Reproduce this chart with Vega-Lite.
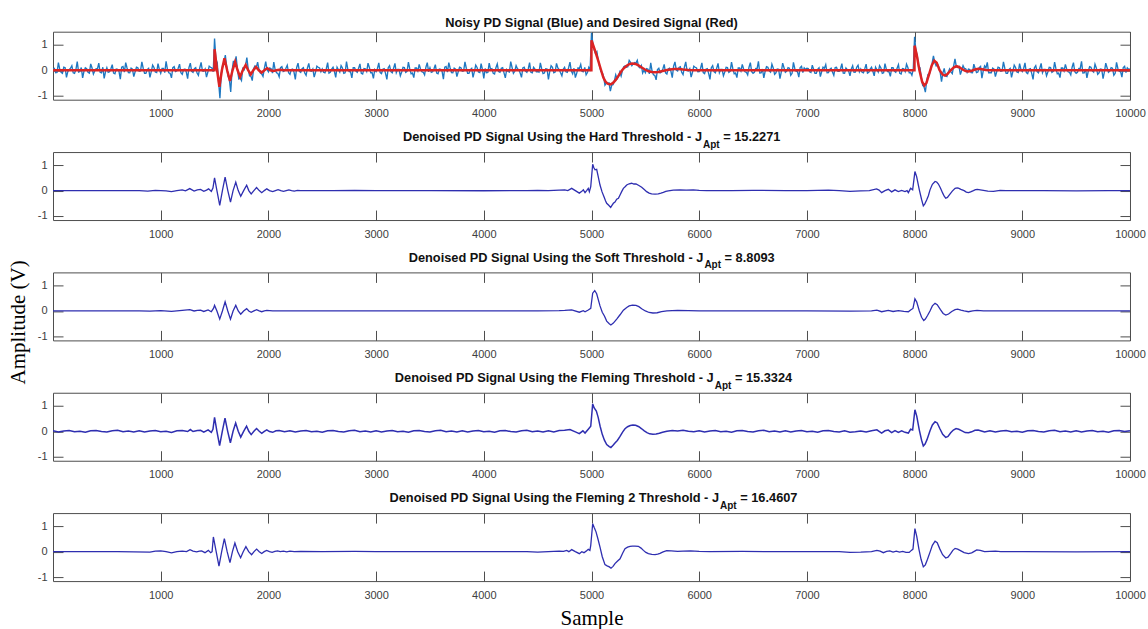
{
"$schema":"https://vega.github.io/schema/vega-lite/v6.json",
"background":"white",
"padding":{"top":15.7,"left":7,"right":4,"bottom":0},
"title":{"text":"Amplitude (V)","orient":"left","anchor":"middle","font":"Liberation Serif","fontSize":21,"fontWeight":"normal","color":"#000000","offset":8},
"config":{"view":{"stroke":"#4d4d4d","strokeWidth":1},"axis":{"grid":false,"domain":false,"labelFont":"Liberation Sans","labelFontSize":11,"labelColor":"#404040","tickColor":"#4d4d4d","labelFlush":false,"labelOverlap":false},"text":{"font":"Liberation Sans"}},
"spacing":10.35,
"datasets":{
"noisy":[{"x":0,"y":0.05},{"x":25,"y":-0.1},{"x":50,"y":0.3},{"x":75,"y":-0.08},{"x":100,"y":0.12},{"x":125,"y":-0.28},{"x":150,"y":0.02},{"x":175,"y":0.18},{"x":200,"y":-0.12},{"x":225,"y":0.34},{"x":250,"y":-0.05},{"x":275,"y":-0.3},{"x":300,"y":0.1},{"x":325,"y":-0.08},{"x":350,"y":0.25},{"x":375,"y":-0.15},{"x":400,"y":0.06},{"x":425,"y":0.28},{"x":450,"y":-0.1},{"x":475,"y":-0.32},
{"x":500,"y":0.1},{"x":525,"y":-0.06},{"x":550,"y":0.22},{"x":575,"y":-0.14},{"x":600,"y":0.04},{"x":625,"y":-0.35},{"x":650,"y":0.15},{"x":675,"y":0.3},{"x":700,"y":-0.09},{"x":725,"y":0.08},{"x":750,"y":-0.25},{"x":775,"y":0.12},{"x":800,"y":-0.04},{"x":825,"y":0.33},{"x":850,"y":-0.12},{"x":875,"y":0.02},{"x":900,"y":-0.28},{"x":925,"y":0.2},{"x":950,"y":-0.07},{"x":975,"y":0.26},
{"x":1000,"y":-0.12},{"x":1025,"y":0.07},{"x":1050,"y":0.35},{"x":1075,"y":-0.1},{"x":1100,"y":-0.3},{"x":1125,"y":0.14},{"x":1150,"y":-0.02},{"x":1175,"y":0.24},{"x":1200,"y":-0.16},{"x":1225,"y":0.05},{"x":1250,"y":-0.33},{"x":1275,"y":0.28},{"x":1300,"y":-0.08},{"x":1325,"y":0.1},{"x":1350,"y":-0.2},{"x":1375,"y":0.31},{"x":1400,"y":-0.04},{"x":1425,"y":-0.27},{"x":1450,"y":0.16},{"x":1475,"y":0.09},
{"x":1500,"y":1.25},{"x":1525,"y":0.3},{"x":1550,"y":-1.1},{"x":1575,"y":0.2},{"x":1600,"y":0.6},{"x":1625,"y":-0.23},{"x":1650,"y":-0.85},{"x":1675,"y":0.37},{"x":1700,"y":0.55},{"x":1725,"y":-0.34},{"x":1750,"y":-0.4},{"x":1775,"y":0.02},{"x":1800,"y":0.5},{"x":1825,"y":-0.22},{"x":1850,"y":-0.41},{"x":1875,"y":0.17},{"x":1900,"y":0.32},{"x":1925,"y":-0.11},{"x":1950,"y":-0.24},{"x":1975,"y":0.34},
{"x":2000,"y":-0.06},{"x":2025,"y":0.06},{"x":2050,"y":0.32},{"x":2075,"y":-0.1},{"x":2100,"y":-0.26},{"x":2125,"y":0.14},{"x":2150,"y":-0.02},{"x":2175,"y":0.2},{"x":2200,"y":-0.16},{"x":2225,"y":0.05},{"x":2250,"y":-0.36},{"x":2275,"y":0.28},{"x":2300,"y":-0.08},{"x":2325,"y":0.1},{"x":2350,"y":-0.2},{"x":2375,"y":0.27},{"x":2400,"y":-0.04},{"x":2425,"y":-0.27},{"x":2450,"y":0.16},{"x":2475,"y":0.09},
{"x":2500,"y":0.05},{"x":2525,"y":-0.1},{"x":2550,"y":0.3},{"x":2575,"y":-0.08},{"x":2600,"y":0.12},{"x":2625,"y":-0.28},{"x":2650,"y":0.02},{"x":2675,"y":0.18},{"x":2700,"y":-0.12},{"x":2725,"y":0.34},{"x":2750,"y":-0.05},{"x":2775,"y":-0.3},{"x":2800,"y":0.1},{"x":2825,"y":-0.08},{"x":2850,"y":0.25},{"x":2875,"y":-0.15},{"x":2900,"y":0.06},{"x":2925,"y":0.28},{"x":2950,"y":-0.1},{"x":2975,"y":-0.32},
{"x":3000,"y":-0.05},{"x":3025,"y":0.29},{"x":3050,"y":-0.13},{"x":3075,"y":0.06},{"x":3100,"y":-0.36},{"x":3125,"y":0.18},{"x":3150,"y":-0.1},{"x":3175,"y":0.27},{"x":3200,"y":0.03},{"x":3225,"y":-0.22},{"x":3250,"y":0.12},{"x":3275,"y":-0.08},{"x":3300,"y":0.32},{"x":3325,"y":-0.14},{"x":3350,"y":-0.29},{"x":3375,"y":0.09},{"x":3400,"y":0.23},{"x":3425,"y":-0.06},{"x":3450,"y":-0.18},{"x":3475,"y":0.3},
{"x":3500,"y":0.1},{"x":3525,"y":-0.06},{"x":3550,"y":0.22},{"x":3575,"y":-0.14},{"x":3600,"y":0.04},{"x":3625,"y":-0.35},{"x":3650,"y":0.15},{"x":3675,"y":0.3},{"x":3700,"y":-0.09},{"x":3725,"y":0.08},{"x":3750,"y":-0.25},{"x":3775,"y":0.12},{"x":3800,"y":-0.04},{"x":3825,"y":0.33},{"x":3850,"y":-0.12},{"x":3875,"y":0.02},{"x":3900,"y":-0.28},{"x":3925,"y":0.2},{"x":3950,"y":-0.07},{"x":3975,"y":0.26},
{"x":4000,"y":-0.32},{"x":4025,"y":-0.1},{"x":4050,"y":0.28},{"x":4075,"y":0.06},{"x":4100,"y":-0.15},{"x":4125,"y":0.25},{"x":4150,"y":-0.08},{"x":4175,"y":0.1},{"x":4200,"y":-0.3},{"x":4225,"y":-0.05},{"x":4250,"y":0.34},{"x":4275,"y":-0.12},{"x":4300,"y":0.18},{"x":4325,"y":0.02},{"x":4350,"y":-0.28},{"x":4375,"y":0.12},{"x":4400,"y":-0.08},{"x":4425,"y":0.3},{"x":4450,"y":-0.1},{"x":4475,"y":0.05},
{"x":4500,"y":-0.05},{"x":4525,"y":0.29},{"x":4550,"y":-0.13},{"x":4575,"y":0.06},{"x":4600,"y":-0.36},{"x":4625,"y":0.18},{"x":4650,"y":-0.1},{"x":4675,"y":0.27},{"x":4700,"y":0.03},{"x":4725,"y":-0.22},{"x":4750,"y":0.12},{"x":4775,"y":-0.08},{"x":4800,"y":0.32},{"x":4825,"y":-0.14},{"x":4850,"y":-0.29},{"x":4875,"y":0.09},{"x":4900,"y":0.23},{"x":4925,"y":-0.06},{"x":4950,"y":-0.18},{"x":4975,"y":0.12},
{"x":5000,"y":1.48},{"x":5025,"y":0.81},{"x":5050,"y":0.73},{"x":5075,"y":0.15},{"x":5100,"y":-0.09},{"x":5125,"y":-0.59},{"x":5150,"y":-0.52},{"x":5175,"y":-0.82},{"x":5200,"y":-0.57},{"x":5225,"y":-0.18},{"x":5250,"y":-0.25},{"x":5275,"y":-0.23},{"x":5300,"y":0.14},{"x":5325,"y":0.12},{"x":5350,"y":0.39},{"x":5375,"y":0.18},{"x":5400,"y":0.3},{"x":5425,"y":0.39},{"x":5450,"y":0.09},{"x":5475,"y":-0.11},
{"x":5500,"y":-0.1},{"x":5525,"y":0.04},{"x":5550,"y":0.29},{"x":5575,"y":-0.18},{"x":5600,"y":-0.38},{"x":5625,"y":0.08},{"x":5650,"y":-0.06},{"x":5675,"y":0.23},{"x":5700,"y":-0.15},{"x":5725,"y":0.08},{"x":5750,"y":-0.29},{"x":5775,"y":0.33},{"x":5800,"y":-0.03},{"x":5825,"y":0.14},{"x":5850,"y":-0.17},{"x":5875,"y":0.33},{"x":5900,"y":-0.03},{"x":5925,"y":-0.27},{"x":5950,"y":0.16},{"x":5975,"y":0.09},
{"x":6000,"y":-0.05},{"x":6025,"y":0.29},{"x":6050,"y":-0.13},{"x":6075,"y":0.06},{"x":6100,"y":-0.36},{"x":6125,"y":0.18},{"x":6150,"y":-0.1},{"x":6175,"y":0.27},{"x":6200,"y":0.03},{"x":6225,"y":-0.22},{"x":6250,"y":0.12},{"x":6275,"y":-0.08},{"x":6300,"y":0.32},{"x":6325,"y":-0.14},{"x":6350,"y":-0.29},{"x":6375,"y":0.09},{"x":6400,"y":0.23},{"x":6425,"y":-0.06},{"x":6450,"y":-0.18},{"x":6475,"y":0.3},
{"x":6500,"y":-0.12},{"x":6525,"y":0.07},{"x":6550,"y":0.35},{"x":6575,"y":-0.1},{"x":6600,"y":-0.3},{"x":6625,"y":0.14},{"x":6650,"y":-0.02},{"x":6675,"y":0.24},{"x":6700,"y":-0.16},{"x":6725,"y":0.05},{"x":6750,"y":-0.33},{"x":6775,"y":0.28},{"x":6800,"y":-0.08},{"x":6825,"y":0.1},{"x":6850,"y":-0.2},{"x":6875,"y":0.31},{"x":6900,"y":-0.04},{"x":6925,"y":-0.27},{"x":6950,"y":0.16},{"x":6975,"y":0.09},
{"x":7000,"y":0.08},{"x":7025,"y":-0.06},{"x":7050,"y":0.2},{"x":7075,"y":-0.12},{"x":7100,"y":0.04},{"x":7125,"y":-0.25},{"x":7150,"y":0.12},{"x":7175,"y":0.22},{"x":7200,"y":-0.09},{"x":7225,"y":0.08},{"x":7250,"y":-0.2},{"x":7275,"y":0.12},{"x":7300,"y":-0.04},{"x":7325,"y":0.26},{"x":7350,"y":-0.12},{"x":7375,"y":0.02},{"x":7400,"y":-0.22},{"x":7425,"y":0.18},{"x":7450,"y":-0.07},{"x":7475,"y":0.2},
{"x":7500,"y":0.05},{"x":7525,"y":-0.1},{"x":7550,"y":0.24},{"x":7575,"y":-0.08},{"x":7600,"y":0.12},{"x":7625,"y":-0.22},{"x":7650,"y":0.02},{"x":7675,"y":0.18},{"x":7700,"y":-0.12},{"x":7725,"y":0.26},{"x":7750,"y":-0.05},{"x":7775,"y":-0.24},{"x":7800,"y":0.1},{"x":7825,"y":-0.08},{"x":7850,"y":0.22},{"x":7875,"y":-0.15},{"x":7900,"y":0.06},{"x":7925,"y":0.24},{"x":7950,"y":-0.1},{"x":7975,"y":-0.2},
{"x":8000,"y":1.32},{"x":8025,"y":0.57},{"x":8050,"y":0.1},{"x":8075,"y":-0.6},{"x":8100,"y":-0.86},{"x":8125,"y":-0.16},{"x":8150,"y":0.04},{"x":8175,"y":0.57},{"x":8200,"y":0.17},{"x":8225,"y":0.12},{"x":8250,"y":-0.45},{"x":8275,"y":0.07},{"x":8300,"y":-0.25},{"x":8325,"y":0.05},{"x":8350,"y":-0.13},{"x":8375,"y":0.45},{"x":8400,"y":0.11},{"x":8425,"y":-0.17},{"x":8450,"y":0.18},{"x":8475,"y":0.06},
{"x":8500,"y":0.05},{"x":8525,"y":-0.09},{"x":8550,"y":0.24},{"x":8575,"y":-0.09},{"x":8600,"y":0.1},{"x":8625,"y":-0.31},{"x":8650,"y":0.17},{"x":8675,"y":0.31},{"x":8700,"y":-0.09},{"x":8725,"y":0.08},{"x":8750,"y":-0.25},{"x":8775,"y":0.12},{"x":8800,"y":-0.04},{"x":8825,"y":0.33},{"x":8850,"y":-0.12},{"x":8875,"y":0.02},{"x":8900,"y":-0.28},{"x":8925,"y":0.2},{"x":8950,"y":-0.07},{"x":8975,"y":0.26},
{"x":9000,"y":-0.05},{"x":9025,"y":0.29},{"x":9050,"y":-0.13},{"x":9075,"y":0.06},{"x":9100,"y":-0.36},{"x":9125,"y":0.18},{"x":9150,"y":-0.1},{"x":9175,"y":0.27},{"x":9200,"y":0.03},{"x":9225,"y":-0.22},{"x":9250,"y":0.12},{"x":9275,"y":-0.08},{"x":9300,"y":0.32},{"x":9325,"y":-0.14},{"x":9350,"y":-0.29},{"x":9375,"y":0.09},{"x":9400,"y":0.23},{"x":9425,"y":-0.06},{"x":9450,"y":-0.18},{"x":9475,"y":0.3},
{"x":9500,"y":-0.12},{"x":9525,"y":0.07},{"x":9550,"y":0.35},{"x":9575,"y":-0.1},{"x":9600,"y":-0.3},{"x":9625,"y":0.14},{"x":9650,"y":-0.02},{"x":9675,"y":0.24},{"x":9700,"y":-0.16},{"x":9725,"y":0.05},{"x":9750,"y":-0.33},{"x":9775,"y":0.28},{"x":9800,"y":-0.08},{"x":9825,"y":0.1},{"x":9850,"y":-0.2},{"x":9875,"y":0.31},{"x":9900,"y":-0.04},{"x":9925,"y":-0.27},{"x":9950,"y":0.16},{"x":9975,"y":0.09},{"x":10000,"y":0.05},
{"x":12.5,"y":0.07},{"x":37.5,"y":-0.09},{"x":62.5,"y":0.04},{"x":87.5,"y":-0.12},{"x":112.5,"y":0.1},{"x":137.5,"y":-0.05},{"x":162.5,"y":0.08},{"x":187.5,"y":-0.1},{"x":212.5,"y":0.03},{"x":237.5,"y":-0.07},{"x":262.5,"y":0.11},{"x":287.5,"y":-0.04},{"x":312.5,"y":0.06},{"x":337.5,"y":-0.11},{"x":362.5,"y":0.09},{"x":387.5,"y":-0.03},{"x":412.5,"y":0.05},{"x":437.5,"y":-0.08},{"x":462.5,"y":0.12},{"x":487.5,"y":-0.06},
{"x":512.5,"y":-0.08},{"x":537.5,"y":0.06},{"x":562.5,"y":-0.11},{"x":587.5,"y":0.05},{"x":612.5,"y":-0.04},{"x":637.5,"y":0.12},{"x":662.5,"y":-0.07},{"x":687.5,"y":0.09},{"x":712.5,"y":-0.1},{"x":737.5,"y":0.04},{"x":762.5,"y":-0.06},{"x":787.5,"y":0.1},{"x":812.5,"y":-0.03},{"x":837.5,"y":0.08},{"x":862.5,"y":-0.12},{"x":887.5,"y":0.07},{"x":912.5,"y":-0.05},{"x":937.5,"y":0.11},{"x":962.5,"y":-0.09},{"x":987.5,"y":0.03},
{"x":1012.5,"y":0.07},{"x":1037.5,"y":-0.09},{"x":1062.5,"y":0.04},{"x":1087.5,"y":-0.12},{"x":1112.5,"y":0.1},{"x":1137.5,"y":-0.05},{"x":1162.5,"y":0.08},{"x":1187.5,"y":-0.1},{"x":1212.5,"y":0.03},{"x":1237.5,"y":-0.07},{"x":1262.5,"y":0.11},{"x":1287.5,"y":-0.04},{"x":1312.5,"y":0.06},{"x":1337.5,"y":-0.11},{"x":1362.5,"y":0.09},{"x":1387.5,"y":-0.03},{"x":1412.5,"y":0.05},{"x":1437.5,"y":-0.08},{"x":1462.5,"y":0.12},{"x":1487.5,"y":-0.06},
{"x":1512.5,"y":0.43},{"x":1537.5,"y":-0.47},{"x":1562.5,"y":-0.14},{"x":1587.5,"y":0.31},{"x":1612.5,"y":0.14},{"x":1637.5,"y":-0.36},{"x":1662.5,"y":-0.02},{"x":1687.5,"y":0.22},{"x":1712.5,"y":0.04},{"x":1737.5,"y":-0.3},{"x":1762.5,"y":0.07},{"x":1787.5,"y":0.18},{"x":1812.5,"y":0.04},{"x":1837.5,"y":-0.23},{"x":1862.5,"y":0.06},{"x":1887.5,"y":0.11},{"x":1912.5,"y":0.03},{"x":1937.5,"y":-0.14},{"x":1962.5,"y":0.07},{"x":1987.5,"y":0.03},
{"x":2012.5,"y":0.09},{"x":2037.5,"y":-0.11},{"x":2062.5,"y":0.03},{"x":2087.5,"y":-0.12},{"x":2112.5,"y":0.1},{"x":2137.5,"y":-0.05},{"x":2162.5,"y":0.08},{"x":2187.5,"y":-0.1},{"x":2212.5,"y":0.03},{"x":2237.5,"y":-0.07},{"x":2262.5,"y":0.11},{"x":2287.5,"y":-0.04},{"x":2312.5,"y":0.06},{"x":2337.5,"y":-0.11},{"x":2362.5,"y":0.09},{"x":2387.5,"y":-0.03},{"x":2412.5,"y":0.05},{"x":2437.5,"y":-0.08},{"x":2462.5,"y":0.12},{"x":2487.5,"y":-0.06},
{"x":2512.5,"y":-0.08},{"x":2537.5,"y":0.06},{"x":2562.5,"y":-0.11},{"x":2587.5,"y":0.05},{"x":2612.5,"y":-0.04},{"x":2637.5,"y":0.12},{"x":2662.5,"y":-0.07},{"x":2687.5,"y":0.09},{"x":2712.5,"y":-0.1},{"x":2737.5,"y":0.04},{"x":2762.5,"y":-0.06},{"x":2787.5,"y":0.1},{"x":2812.5,"y":-0.03},{"x":2837.5,"y":0.08},{"x":2862.5,"y":-0.12},{"x":2887.5,"y":0.07},{"x":2912.5,"y":-0.05},{"x":2937.5,"y":0.11},{"x":2962.5,"y":-0.09},{"x":2987.5,"y":0.03},
{"x":3012.5,"y":0.07},{"x":3037.5,"y":-0.09},{"x":3062.5,"y":0.04},{"x":3087.5,"y":-0.12},{"x":3112.5,"y":0.1},{"x":3137.5,"y":-0.05},{"x":3162.5,"y":0.08},{"x":3187.5,"y":-0.1},{"x":3212.5,"y":0.03},{"x":3237.5,"y":-0.07},{"x":3262.5,"y":0.11},{"x":3287.5,"y":-0.04},{"x":3312.5,"y":0.06},{"x":3337.5,"y":-0.11},{"x":3362.5,"y":0.09},{"x":3387.5,"y":-0.03},{"x":3412.5,"y":0.05},{"x":3437.5,"y":-0.08},{"x":3462.5,"y":0.12},{"x":3487.5,"y":-0.06},
{"x":3512.5,"y":-0.08},{"x":3537.5,"y":0.06},{"x":3562.5,"y":-0.11},{"x":3587.5,"y":0.05},{"x":3612.5,"y":-0.04},{"x":3637.5,"y":0.12},{"x":3662.5,"y":-0.07},{"x":3687.5,"y":0.09},{"x":3712.5,"y":-0.1},{"x":3737.5,"y":0.04},{"x":3762.5,"y":-0.06},{"x":3787.5,"y":0.1},{"x":3812.5,"y":-0.03},{"x":3837.5,"y":0.08},{"x":3862.5,"y":-0.12},{"x":3887.5,"y":0.07},{"x":3912.5,"y":-0.05},{"x":3937.5,"y":0.11},{"x":3962.5,"y":-0.09},{"x":3987.5,"y":0.03},
{"x":4012.5,"y":0.07},{"x":4037.5,"y":-0.09},{"x":4062.5,"y":0.04},{"x":4087.5,"y":-0.12},{"x":4112.5,"y":0.1},{"x":4137.5,"y":-0.05},{"x":4162.5,"y":0.08},{"x":4187.5,"y":-0.1},{"x":4212.5,"y":0.03},{"x":4237.5,"y":-0.07},{"x":4262.5,"y":0.11},{"x":4287.5,"y":-0.04},{"x":4312.5,"y":0.06},{"x":4337.5,"y":-0.11},{"x":4362.5,"y":0.09},{"x":4387.5,"y":-0.03},{"x":4412.5,"y":0.05},{"x":4437.5,"y":-0.08},{"x":4462.5,"y":0.12},{"x":4487.5,"y":-0.06},
{"x":4512.5,"y":-0.08},{"x":4537.5,"y":0.06},{"x":4562.5,"y":-0.11},{"x":4587.5,"y":0.05},{"x":4612.5,"y":-0.04},{"x":4637.5,"y":0.12},{"x":4662.5,"y":-0.07},{"x":4687.5,"y":0.09},{"x":4712.5,"y":-0.1},{"x":4737.5,"y":0.04},{"x":4762.5,"y":-0.06},{"x":4787.5,"y":0.1},{"x":4812.5,"y":-0.03},{"x":4837.5,"y":0.08},{"x":4862.5,"y":-0.12},{"x":4887.5,"y":0.07},{"x":4912.5,"y":-0.05},{"x":4937.5,"y":0.11},{"x":4962.5,"y":-0.09},{"x":4987.5,"y":0.03},
{"x":5012.5,"y":1.06},{"x":5037.5,"y":0.66},{"x":5062.5,"y":0.4},{"x":5087.5,"y":-0.05},{"x":5112.5,"y":-0.25},{"x":5137.5,"y":-0.51},{"x":5162.5,"y":-0.5},{"x":5187.5,"y":-0.59},{"x":5212.5,"y":-0.42},{"x":5237.5,"y":-0.34},{"x":5262.5,"y":-0.07},{"x":5287.5,"y":0},{"x":5312.5,"y":0.17},{"x":5337.5,"y":0.14},{"x":5362.5,"y":0.31},{"x":5387.5,"y":0.25},{"x":5412.5,"y":0.28},{"x":5437.5,"y":0.14},{"x":5462.5,"y":0.19},{"x":5487.5,"y":0.01},
{"x":5512.5,"y":0.06},{"x":5537.5,"y":-0.14},{"x":5562.5,"y":-0.03},{"x":5587.5,"y":-0.2},{"x":5612.5,"y":0.03},{"x":5637.5,"y":-0.1},{"x":5662.5,"y":0.05},{"x":5687.5,"y":-0.1},{"x":5712.5,"y":0.05},{"x":5737.5,"y":-0.04},{"x":5762.5,"y":0.16},{"x":5787.5,"y":0.01},{"x":5812.5,"y":0.11},{"x":5837.5,"y":-0.08},{"x":5862.5,"y":0.12},{"x":5887.5,"y":-0.02},{"x":5912.5,"y":0.06},{"x":5937.5,"y":-0.08},{"x":5962.5,"y":0.12},{"x":5987.5,"y":-0.06},
{"x":6012.5,"y":0.07},{"x":6037.5,"y":-0.09},{"x":6062.5,"y":0.04},{"x":6087.5,"y":-0.12},{"x":6112.5,"y":0.1},{"x":6137.5,"y":-0.05},{"x":6162.5,"y":0.08},{"x":6187.5,"y":-0.1},{"x":6212.5,"y":0.03},{"x":6237.5,"y":-0.07},{"x":6262.5,"y":0.11},{"x":6287.5,"y":-0.04},{"x":6312.5,"y":0.06},{"x":6337.5,"y":-0.11},{"x":6362.5,"y":0.09},{"x":6387.5,"y":-0.03},{"x":6412.5,"y":0.05},{"x":6437.5,"y":-0.08},{"x":6462.5,"y":0.12},{"x":6487.5,"y":-0.06},
{"x":6512.5,"y":-0.08},{"x":6537.5,"y":0.06},{"x":6562.5,"y":-0.11},{"x":6587.5,"y":0.05},{"x":6612.5,"y":-0.04},{"x":6637.5,"y":0.12},{"x":6662.5,"y":-0.07},{"x":6687.5,"y":0.09},{"x":6712.5,"y":-0.1},{"x":6737.5,"y":0.04},{"x":6762.5,"y":-0.06},{"x":6787.5,"y":0.1},{"x":6812.5,"y":-0.03},{"x":6837.5,"y":0.08},{"x":6862.5,"y":-0.12},{"x":6887.5,"y":0.07},{"x":6912.5,"y":-0.05},{"x":6937.5,"y":0.11},{"x":6962.5,"y":-0.09},{"x":6987.5,"y":0.03},
{"x":7012.5,"y":0.07},{"x":7037.5,"y":-0.09},{"x":7062.5,"y":0.04},{"x":7087.5,"y":-0.12},{"x":7112.5,"y":0.1},{"x":7137.5,"y":-0.05},{"x":7162.5,"y":0.08},{"x":7187.5,"y":-0.1},{"x":7212.5,"y":0.03},{"x":7237.5,"y":-0.07},{"x":7262.5,"y":0.11},{"x":7287.5,"y":-0.04},{"x":7312.5,"y":0.06},{"x":7337.5,"y":-0.11},{"x":7362.5,"y":0.09},{"x":7387.5,"y":-0.03},{"x":7412.5,"y":0.05},{"x":7437.5,"y":-0.08},{"x":7462.5,"y":0.12},{"x":7487.5,"y":-0.06},
{"x":7512.5,"y":-0.08},{"x":7537.5,"y":0.06},{"x":7562.5,"y":-0.11},{"x":7587.5,"y":0.05},{"x":7612.5,"y":-0.04},{"x":7637.5,"y":0.12},{"x":7662.5,"y":-0.07},{"x":7687.5,"y":0.09},{"x":7712.5,"y":-0.1},{"x":7737.5,"y":0.04},{"x":7762.5,"y":-0.06},{"x":7787.5,"y":0.1},{"x":7812.5,"y":-0.03},{"x":7837.5,"y":0.08},{"x":7862.5,"y":-0.12},{"x":7887.5,"y":0.07},{"x":7912.5,"y":-0.05},{"x":7937.5,"y":0.11},{"x":7962.5,"y":-0.09},{"x":7987.5,"y":0.03},
{"x":8012.5,"y":0.78},{"x":8037.5,"y":0.13},{"x":8062.5,"y":-0.29},{"x":8087.5,"y":-0.65},{"x":8112.5,"y":-0.41},{"x":8137.5,"y":-0.15},{"x":8162.5,"y":0.27},{"x":8187.5,"y":0.3},{"x":8212.5,"y":0.24},{"x":8237.5,"y":-0.07},{"x":8262.5,"y":-0.11},{"x":8287.5,"y":-0.22},{"x":8312.5,"y":-0.08},{"x":8337.5,"y":-0.06},{"x":8362.5,"y":0.16},{"x":8387.5,"y":0.14},{"x":8412.5,"y":0.15},{"x":8437.5,"y":0},{"x":8462.5,"y":0.07},{"x":8487.5,"y":-0.08},
{"x":8512.5,"y":0.03},{"x":8537.5,"y":-0.1},{"x":8562.5,"y":0.07},{"x":8587.5,"y":-0.07},{"x":8612.5,"y":0.15},{"x":8637.5,"y":-0.02},{"x":8662.5,"y":0.09},{"x":8687.5,"y":-0.1},{"x":8712.5,"y":-0.1},{"x":8737.5,"y":0.04},{"x":8762.5,"y":-0.06},{"x":8787.5,"y":0.1},{"x":8812.5,"y":-0.03},{"x":8837.5,"y":0.08},{"x":8862.5,"y":-0.12},{"x":8887.5,"y":0.07},{"x":8912.5,"y":-0.05},{"x":8937.5,"y":0.11},{"x":8962.5,"y":-0.09},{"x":8987.5,"y":0.03},
{"x":9012.5,"y":0.07},{"x":9037.5,"y":-0.09},{"x":9062.5,"y":0.04},{"x":9087.5,"y":-0.12},{"x":9112.5,"y":0.1},{"x":9137.5,"y":-0.05},{"x":9162.5,"y":0.08},{"x":9187.5,"y":-0.1},{"x":9212.5,"y":0.03},{"x":9237.5,"y":-0.07},{"x":9262.5,"y":0.11},{"x":9287.5,"y":-0.04},{"x":9312.5,"y":0.06},{"x":9337.5,"y":-0.11},{"x":9362.5,"y":0.09},{"x":9387.5,"y":-0.03},{"x":9412.5,"y":0.05},{"x":9437.5,"y":-0.08},{"x":9462.5,"y":0.12},{"x":9487.5,"y":-0.06},
{"x":9512.5,"y":-0.08},{"x":9537.5,"y":0.06},{"x":9562.5,"y":-0.11},{"x":9587.5,"y":0.05},{"x":9612.5,"y":-0.04},{"x":9637.5,"y":0.12},{"x":9662.5,"y":-0.07},{"x":9687.5,"y":0.09},{"x":9712.5,"y":-0.1},{"x":9737.5,"y":0.04},{"x":9762.5,"y":-0.06},{"x":9787.5,"y":0.1},{"x":9812.5,"y":-0.03},{"x":9837.5,"y":0.08},{"x":9862.5,"y":-0.12},{"x":9887.5,"y":0.07},{"x":9912.5,"y":-0.05},{"x":9937.5,"y":0.11},{"x":9962.5,"y":-0.09},{"x":9987.5,"y":0.03}],
"desired":[{"x":0,"y":0},{"x":1499,"y":0},{"x":1500,"y":0.83},{"x":1522,"y":0.05},{"x":1545,"y":-0.65},{"x":1568,"y":0},{"x":1592,"y":0.47},{"x":1617,"y":0},{"x":1643,"y":-0.42},{"x":1667,"y":0},{"x":1691,"y":0.33},{"x":1714,"y":0},{"x":1737,"y":-0.26},{"x":1762,"y":0},{"x":1789,"y":0.21},{"x":1812,"y":0},{"x":1836,"y":-0.16},{"x":1860,"y":0},{"x":1885,"y":0.13},{"x":1911,"y":0},{"x":1937,"y":-0.09},{"x":1963,"y":0},{"x":1990,"y":0.08},{"x":2018,"y":0},{"x":2046,"y":-0.03},{"x":2075,"y":0},{"x":2100,"y":0.02},{"x":2150,"y":0},
{"x":4999,"y":0},{"x":5000,"y":1.18},{"x":5017,"y":0.97},{"x":5040,"y":0.68},{"x":5063,"y":0.37},{"x":5087,"y":0.03},{"x":5110,"y":-0.29},{"x":5130,"y":-0.45},{"x":5150,"y":-0.53},{"x":5175,"y":-0.56},{"x":5200,"y":-0.5},{"x":5225,"y":-0.38},{"x":5250,"y":-0.22},{"x":5280,"y":-0.02},{"x":5305,"y":0.1},{"x":5330,"y":0.19},{"x":5355,"y":0.25},{"x":5380,"y":0.27},{"x":5410,"y":0.25},{"x":5440,"y":0.18},{"x":5470,"y":0.1},{"x":5500,"y":0.02},{"x":5530,"y":-0.04},{"x":5560,"y":-0.07},{"x":5590,"y":-0.08},{"x":5620,"y":-0.07},{"x":5650,"y":-0.04},{"x":5690,"y":0},{"x":5730,"y":0.03},{"x":5770,"y":0.05},{"x":5810,"y":0.05},{"x":5850,"y":0.03},{"x":5900,"y":0.01},{"x":5950,"y":0},
{"x":7999,"y":0},{"x":8000,"y":0.97},{"x":8020,"y":0.6},{"x":8045,"y":0},{"x":8070,"y":-0.45},{"x":8090,"y":-0.6},{"x":8110,"y":-0.5},{"x":8135,"y":-0.15},{"x":8160,"y":0.2},{"x":8183,"y":0.38},{"x":8205,"y":0.3},{"x":8232,"y":0},{"x":8260,"y":-0.17},{"x":8282,"y":-0.21},{"x":8305,"y":-0.15},{"x":8335,"y":0},{"x":8365,"y":0.12},{"x":8390,"y":0.16},{"x":8415,"y":0.12},{"x":8445,"y":0.03},{"x":8475,"y":-0.03},{"x":8499,"y":-0.05},{"x":8530,"y":-0.02},{"x":8560,"y":0.03},{"x":8592,"y":0.06},{"x":8625,"y":0.04},{"x":8660,"y":0.01},{"x":8700,"y":0},{"x":10000,"y":0}],
"hard":[{"x":0,"y":0},{"x":500,"y":0},{"x":800,"y":0},{"x":880,"y":-0.02},{"x":950,"y":0.01},{"x":1050,"y":-0.01},{"x":1100,"y":-0.04},{"x":1150,"y":0},{"x":1200,"y":0.03},{"x":1230,"y":-0.01},{"x":1270,"y":0.08},{"x":1310,"y":-0.02},{"x":1340,"y":0.03},{"x":1370,"y":0.05},{"x":1400,"y":-0.03},{"x":1425,"y":0.02},{"x":1445,"y":0.07},{"x":1470,"y":-0.03},{"x":1485,"y":0.1},{"x":1500,"y":0.5},{"x":1522,"y":0},{"x":1548,"y":-0.58},{"x":1573,"y":0},{"x":1598,"y":0.53},{"x":1623,"y":0},{"x":1648,"y":-0.45},{"x":1672,"y":0},{"x":1697,"y":0.33},{"x":1720,"y":0},{"x":1743,"y":-0.22},{"x":1770,"y":0},{"x":1798,"y":0.21},{"x":1818,"y":0},{"x":1840,"y":-0.13},{"x":1865,"y":0},{"x":1890,"y":0.12},{"x":1915,"y":0},{"x":1938,"y":-0.08},{"x":1962,"y":0},{"x":1985,"y":0.07},{"x":2010,"y":0},{"x":2040,"y":-0.04},{"x":2065,"y":0},{"x":2090,"y":0.04},{"x":2115,"y":0},{"x":2140,"y":-0.03},{"x":2165,"y":0},{"x":2190,"y":0.03},{"x":2215,"y":0},{"x":2240,"y":-0.02},{"x":2270,"y":0.01},{"x":2300,"y":0},{"x":2600,"y":0},{"x":2800,"y":0.01},{"x":3000,"y":0},{"x":3500,"y":0},{"x":4000,"y":-0.005},{"x":4400,"y":0},{"x":4500,"y":0.01},{"x":4600,"y":0},{"x":4700,"y":0.02},{"x":4752,"y":0.03},{"x":4780,"y":0},{"x":4816,"y":0.09},{"x":4850,"y":0},{"x":4887,"y":-0.1},{"x":4910,"y":-0.03},{"x":4924,"y":0.03},{"x":4940,"y":-0.08},{"x":4955,"y":0},{"x":4970,"y":0.09},{"x":4980,"y":-0.04},{"x":4993,"y":0.16},{"x":5011,"y":1.04},{"x":5022,"y":0.9},{"x":5033,"y":0.82},{"x":5048,"y":0.84},{"x":5060,"y":0.6},{"x":5079,"y":0.22},{"x":5098,"y":-0.05},{"x":5116,"y":-0.24},{"x":5130,"y":-0.4},{"x":5141,"y":-0.5},{"x":5160,"y":-0.58},{"x":5178,"y":-0.66},{"x":5190,"y":-0.58},{"x":5203,"y":-0.5},{"x":5218,"y":-0.45},{"x":5234,"y":-0.34},{"x":5250,"y":-0.3},{"x":5265,"y":-0.17},{"x":5280,"y":-0.04},{"x":5296,"y":0.09},{"x":5312,"y":0.15},{"x":5327,"y":0.22},{"x":5350,"y":0.27},{"x":5373,"y":0.29},{"x":5393,"y":0.26},{"x":5413,"y":0.26},{"x":5440,"y":0.2},{"x":5466,"y":0.13},{"x":5490,"y":0.04},{"x":5512,"y":-0.04},{"x":5535,"y":-0.1},{"x":5558,"y":-0.13},{"x":5590,"y":-0.14},{"x":5620,"y":-0.13},{"x":5645,"y":-0.1},{"x":5667,"y":-0.07},{"x":5690,"y":-0.03},{"x":5713,"y":-0.01},{"x":5760,"y":0.02},{"x":5821,"y":0.03},{"x":5880,"y":0.02},{"x":5945,"y":0.03},{"x":6000,"y":0.01},{"x":6069,"y":0},{"x":6300,"y":0},{"x":6500,"y":0.01},{"x":6800,"y":0},{"x":7000,"y":0},{"x":7200,"y":0.02},{"x":7300,"y":0},{"x":7400,"y":-0.03},{"x":7500,"y":-0.01},{"x":7580,"y":0},{"x":7647,"y":0.07},{"x":7670,"y":0.02},{"x":7694,"y":-0.08},{"x":7725,"y":0},{"x":7756,"y":0.05},{"x":7787,"y":-0.05},{"x":7818,"y":0.03},{"x":7849,"y":-0.04},{"x":7880,"y":0.01},{"x":7911,"y":-0.04},{"x":7930,"y":0},{"x":7942,"y":-0.08},{"x":7963,"y":0.09},{"x":7982,"y":0.03},{"x":8003,"y":0.75},{"x":8019,"y":0.55},{"x":8044,"y":0.03},{"x":8065,"y":-0.35},{"x":8081,"y":-0.6},{"x":8095,"y":-0.52},{"x":8112,"y":-0.37},{"x":8128,"y":-0.2},{"x":8143,"y":0.03},{"x":8165,"y":0.25},{"x":8190,"y":0.36},{"x":8205,"y":0.34},{"x":8221,"y":0.26},{"x":8240,"y":0.1},{"x":8261,"y":-0.1},{"x":8275,"y":-0.22},{"x":8289,"y":-0.3},{"x":8305,"y":-0.27},{"x":8323,"y":-0.17},{"x":8350,"y":-0.02},{"x":8376,"y":0.09},{"x":8395,"y":0.11},{"x":8407,"y":0.1},{"x":8430,"y":0.05},{"x":8460,"y":0},{"x":8480,"y":-0.06},{"x":8500,"y":-0.08},{"x":8520,"y":-0.05},{"x":8546,"y":0},{"x":8565,"y":0.04},{"x":8583,"y":0.05},{"x":8610,"y":0.03},{"x":8639,"y":0.01},{"x":8680,"y":-0.02},{"x":8732,"y":-0.03},{"x":8794,"y":0.01},{"x":8850,"y":0},{"x":8918,"y":0},{"x":9200,"y":0},{"x":9500,"y":-0.01},{"x":9800,"y":0},{"x":10000,"y":0}],
"soft":[{"x":0,"y":0},{"x":800,"y":0},{"x":900,"y":-0.01},{"x":1000,"y":0.01},{"x":1100,"y":-0.02},{"x":1200,"y":0.02},{"x":1270,"y":0.05},{"x":1310,"y":0},{"x":1340,"y":0.02},{"x":1370,"y":0.03},{"x":1400,"y":-0.02},{"x":1440,"y":0.04},{"x":1470,"y":-0.03},{"x":1490,"y":0.1},{"x":1500,"y":0.22},{"x":1522,"y":0},{"x":1548,"y":-0.32},{"x":1573,"y":0},{"x":1598,"y":0.36},{"x":1623,"y":0},{"x":1648,"y":-0.32},{"x":1672,"y":0},{"x":1697,"y":0.22},{"x":1720,"y":0},{"x":1743,"y":-0.13},{"x":1770,"y":0},{"x":1798,"y":0.09},{"x":1818,"y":0},{"x":1840,"y":-0.05},{"x":1865,"y":0},{"x":1890,"y":0.05},{"x":1915,"y":0},{"x":1938,"y":-0.03},{"x":1962,"y":0},{"x":1985,"y":0.02},{"x":2040,"y":0},{"x":2200,"y":0},{"x":3000,"y":0},{"x":4000,"y":0},{"x":4500,"y":0},{"x":4700,"y":0.01},{"x":4752,"y":0.02},{"x":4816,"y":0.04},{"x":4887,"y":-0.05},{"x":4924,"y":0.01},{"x":4940,"y":-0.03},{"x":4970,"y":0.04},{"x":4993,"y":0.1},{"x":5011,"y":0.7},{"x":5030,"y":0.8},{"x":5048,"y":0.68},{"x":5079,"y":0.2},{"x":5100,"y":-0.05},{"x":5120,"y":-0.2},{"x":5141,"y":-0.4},{"x":5165,"y":-0.5},{"x":5180,"y":-0.55},{"x":5203,"y":-0.48},{"x":5234,"y":-0.32},{"x":5265,"y":-0.15},{"x":5296,"y":0.03},{"x":5327,"y":0.14},{"x":5350,"y":0.2},{"x":5380,"y":0.23},{"x":5413,"y":0.22},{"x":5440,"y":0.17},{"x":5466,"y":0.09},{"x":5500,"y":0},{"x":5535,"y":-0.06},{"x":5570,"y":-0.08},{"x":5610,"y":-0.07},{"x":5650,"y":-0.03},{"x":5700,"y":0},{"x":5800,"y":0.02},{"x":5900,"y":0.01},{"x":6000,"y":0},{"x":7000,"y":0},{"x":7400,"y":-0.01},{"x":7600,"y":0},{"x":7650,"y":0.03},{"x":7694,"y":-0.03},{"x":7756,"y":0.02},{"x":7800,"y":-0.02},{"x":7850,"y":0.01},{"x":7900,"y":-0.02},{"x":7942,"y":-0.03},{"x":7963,"y":0.04},{"x":7985,"y":0.1},{"x":8003,"y":0.48},{"x":8020,"y":0.35},{"x":8044,"y":0},{"x":8065,"y":-0.25},{"x":8085,"y":-0.38},{"x":8100,"y":-0.32},{"x":8120,"y":-0.18},{"x":8143,"y":0},{"x":8165,"y":0.2},{"x":8190,"y":0.3},{"x":8210,"y":0.25},{"x":8240,"y":0.05},{"x":8265,"y":-0.1},{"x":8290,"y":-0.16},{"x":8315,"y":-0.12},{"x":8345,"y":-0.02},{"x":8376,"y":0.05},{"x":8400,"y":0.07},{"x":8430,"y":0.03},{"x":8460,"y":0},{"x":8500,"y":-0.03},{"x":8540,"y":0},{"x":8580,"y":0.02},{"x":8640,"y":0},{"x":10000,"y":0}],
"flem":[{"x":0,"y":0.02},{"x":50,"y":-0.03},{"x":100,"y":0.01},{"x":150,"y":0.03},{"x":200,"y":-0.02},{"x":250,"y":0},{"x":300,"y":-0.04},{"x":350,"y":0.02},{"x":400,"y":0.03},{"x":450,"y":-0.01},{"x":500,"y":-0.03},{"x":550,"y":0.02},{"x":600,"y":0.04},{"x":650,"y":-0.02},{"x":700,"y":0.01},{"x":750,"y":-0.03},{"x":800,"y":0.02},{"x":850,"y":-0.03},{"x":900,"y":0.01},{"x":950,"y":0.03},{"x":1000,"y":-0.02},{"x":1050,"y":0},{"x":1100,"y":-0.05},{"x":1150,"y":0.02},{"x":1200,"y":0.03},{"x":1250,"y":-0.01},{"x":1275,"y":0.07},{"x":1300,"y":-0.01},{"x":1340,"y":0.03},{"x":1370,"y":0.04},{"x":1400,"y":-0.03},{"x":1440,"y":0.06},{"x":1470,"y":-0.04},{"x":1485,"y":0.08},{"x":1500,"y":0.55},{"x":1522,"y":0},{"x":1547,"y":-0.56},{"x":1572,"y":0},{"x":1597,"y":0.52},{"x":1622,"y":0},{"x":1647,"y":-0.45},{"x":1672,"y":0},{"x":1696,"y":0.33},{"x":1720,"y":0},{"x":1743,"y":-0.23},{"x":1770,"y":0},{"x":1797,"y":0.2},{"x":1818,"y":0},{"x":1840,"y":-0.13},{"x":1865,"y":0},{"x":1890,"y":0.11},{"x":1915,"y":0},{"x":1938,"y":-0.08},{"x":1962,"y":0},{"x":1985,"y":0.06},{"x":2010,"y":-0.01},{"x":2040,"y":-0.04},{"x":2070,"y":0.02},{"x":2100,"y":0.03},{"x":2150,"y":-0.02},{"x":2200,"y":0.02},{"x":2250,"y":-0.03},{"x":2300,"y":0.01},{"x":2350,"y":0.03},{"x":2400,"y":-0.02},{"x":2450,"y":0},{"x":2500,"y":-0.04},{"x":2550,"y":0.02},{"x":2600,"y":0.03},{"x":2650,"y":-0.01},{"x":2700,"y":-0.03},{"x":2750,"y":0.02},{"x":2800,"y":0.04},{"x":2850,"y":-0.02},{"x":2900,"y":0.01},{"x":2950,"y":-0.03},{"x":3000,"y":0.02},{"x":3050,"y":-0.03},{"x":3100,"y":0.01},{"x":3150,"y":0.03},{"x":3200,"y":-0.02},{"x":3250,"y":0},{"x":3300,"y":-0.04},{"x":3350,"y":0.02},{"x":3400,"y":0.03},{"x":3450,"y":-0.01},{"x":3500,"y":-0.03},{"x":3550,"y":0.02},{"x":3600,"y":0.04},{"x":3650,"y":-0.02},{"x":3700,"y":0.01},{"x":3750,"y":-0.03},{"x":3800,"y":0.02},{"x":3850,"y":-0.03},{"x":3900,"y":0.01},{"x":3950,"y":0.03},{"x":4000,"y":-0.02},{"x":4050,"y":0},{"x":4100,"y":-0.04},{"x":4150,"y":0.02},{"x":4200,"y":0.03},{"x":4250,"y":-0.01},{"x":4300,"y":-0.03},{"x":4350,"y":0.02},{"x":4400,"y":0.04},{"x":4450,"y":-0.02},{"x":4500,"y":0.01},{"x":4550,"y":-0.03},{"x":4600,"y":0.02},{"x":4650,"y":-0.03},{"x":4700,"y":0.03},{"x":4750,"y":0.04},{"x":4800,"y":0.07},{"x":4850,"y":-0.02},{"x":4887,"y":-0.09},{"x":4920,"y":0.02},{"x":4940,"y":-0.07},{"x":4970,"y":0.08},{"x":4993,"y":0.2},{"x":5011,"y":1.08},{"x":5025,"y":0.92},{"x":5045,"y":0.8},{"x":5062,"y":0.55},{"x":5080,"y":0.2},{"x":5100,"y":-0.12},{"x":5120,"y":-0.35},{"x":5141,"y":-0.52},{"x":5165,"y":-0.6},{"x":5180,"y":-0.64},{"x":5200,"y":-0.55},{"x":5220,"y":-0.45},{"x":5240,"y":-0.36},{"x":5265,"y":-0.2},{"x":5290,"y":-0.02},{"x":5311,"y":0.1},{"x":5335,"y":0.18},{"x":5360,"y":0.23},{"x":5385,"y":0.25},{"x":5410,"y":0.24},{"x":5440,"y":0.18},{"x":5466,"y":0.1},{"x":5490,"y":0.02},{"x":5515,"y":-0.05},{"x":5540,"y":-0.1},{"x":5570,"y":-0.12},{"x":5600,"y":-0.11},{"x":5630,"y":-0.08},{"x":5660,"y":-0.04},{"x":5700,"y":0},{"x":5750,"y":0.03},{"x":5800,"y":0.01},{"x":5850,"y":0.04},{"x":5900,"y":0},{"x":5950,"y":-0.02},{"x":6000,"y":0.02},{"x":6050,"y":-0.03},{"x":6100,"y":0.01},{"x":6150,"y":0.03},{"x":6200,"y":-0.02},{"x":6250,"y":0},{"x":6300,"y":-0.04},{"x":6350,"y":0.02},{"x":6400,"y":0.03},{"x":6450,"y":-0.01},{"x":6500,"y":-0.03},{"x":6550,"y":0.02},{"x":6600,"y":0.04},{"x":6650,"y":-0.02},{"x":6700,"y":0.01},{"x":6750,"y":-0.03},{"x":6800,"y":0.02},{"x":6850,"y":-0.03},{"x":6900,"y":0.01},{"x":6950,"y":0.03},{"x":7000,"y":-0.02},{"x":7050,"y":0},{"x":7100,"y":-0.04},{"x":7150,"y":0.02},{"x":7200,"y":0.03},{"x":7250,"y":-0.01},{"x":7300,"y":-0.03},{"x":7350,"y":0.02},{"x":7400,"y":-0.04},{"x":7450,"y":-0.02},{"x":7500,"y":0.01},{"x":7550,"y":-0.03},{"x":7600,"y":0.02},{"x":7650,"y":0.06},{"x":7694,"y":-0.07},{"x":7725,"y":0.02},{"x":7756,"y":0.05},{"x":7787,"y":-0.05},{"x":7818,"y":0.03},{"x":7849,"y":-0.04},{"x":7880,"y":0.02},{"x":7911,"y":-0.04},{"x":7942,"y":-0.07},{"x":7963,"y":0.08},{"x":7982,"y":0.05},{"x":8003,"y":0.85},{"x":8020,"y":0.6},{"x":8044,"y":0.05},{"x":8065,"y":-0.35},{"x":8081,"y":-0.58},{"x":8097,"y":-0.5},{"x":8115,"y":-0.33},{"x":8143,"y":0.02},{"x":8165,"y":0.25},{"x":8190,"y":0.38},{"x":8210,"y":0.33},{"x":8235,"y":0.1},{"x":8261,"y":-0.12},{"x":8289,"y":-0.24},{"x":8310,"y":-0.2},{"x":8335,"y":-0.06},{"x":8360,"y":0.05},{"x":8385,"y":0.11},{"x":8410,"y":0.08},{"x":8440,"y":0.02},{"x":8470,"y":-0.05},{"x":8500,"y":-0.06},{"x":8530,"y":-0.02},{"x":8560,"y":0.04},{"x":8590,"y":0.05},{"x":8620,"y":0.01},{"x":8650,"y":-0.03},{"x":8700,"y":0.02},{"x":8750,"y":-0.03},{"x":8800,"y":0.01},{"x":8850,"y":0.03},{"x":8900,"y":-0.02},{"x":8950,"y":0},{"x":9000,"y":-0.04},{"x":9050,"y":0.02},{"x":9100,"y":0.03},{"x":9150,"y":-0.01},{"x":9200,"y":-0.03},{"x":9250,"y":0.02},{"x":9300,"y":0.04},{"x":9350,"y":-0.02},{"x":9400,"y":0.01},{"x":9450,"y":-0.03},{"x":9500,"y":0.02},{"x":9550,"y":-0.03},{"x":9600,"y":0.01},{"x":9650,"y":0.03},{"x":9700,"y":-0.02},{"x":9750,"y":0},{"x":9800,"y":-0.04},{"x":9850,"y":0.02},{"x":9900,"y":0.03},{"x":9950,"y":-0.01},{"x":10000,"y":0.02}],
"flem2":[{"x":0,"y":0},{"x":300,"y":0.005},{"x":600,"y":0},{"x":900,"y":-0.02},{"x":950,"y":0.02},{"x":1000,"y":0.03},{"x":1050,"y":0},{"x":1100,"y":-0.05},{"x":1150,"y":0},{"x":1200,"y":0.02},{"x":1240,"y":0},{"x":1272,"y":0.08},{"x":1300,"y":0.02},{"x":1334,"y":-0.01},{"x":1360,"y":0.02},{"x":1380,"y":0.03},{"x":1411,"y":-0.04},{"x":1442,"y":0.05},{"x":1464,"y":-0.04},{"x":1477,"y":0},{"x":1489,"y":0.58},{"x":1515,"y":0},{"x":1541,"y":-0.57},{"x":1566,"y":0},{"x":1591,"y":0.51},{"x":1617,"y":0},{"x":1643,"y":-0.43},{"x":1666,"y":0},{"x":1689,"y":0.34},{"x":1715,"y":0},{"x":1742,"y":-0.24},{"x":1766,"y":0},{"x":1791,"y":0.2},{"x":1817,"y":0},{"x":1844,"y":-0.12},{"x":1867,"y":0},{"x":1891,"y":0.1},{"x":1915,"y":0},{"x":1938,"y":-0.07},{"x":1961,"y":0},{"x":1984,"y":0.05},{"x":2010,"y":0},{"x":2035,"y":-0.03},{"x":2060,"y":0.01},{"x":2085,"y":0.03},{"x":2110,"y":0},{"x":2140,"y":0.02},{"x":2170,"y":-0.01},{"x":2200,"y":0.02},{"x":2240,"y":0},{"x":2300,"y":0.01},{"x":2500,"y":0},{"x":2800,"y":0.01},{"x":3000,"y":0},{"x":3500,"y":0},{"x":4000,"y":0},{"x":4400,"y":0},{"x":4500,"y":-0.02},{"x":4600,"y":0},{"x":4700,"y":0.02},{"x":4740,"y":0.01},{"x":4770,"y":0.05},{"x":4790,"y":0},{"x":4816,"y":0.08},{"x":4850,"y":0},{"x":4887,"y":-0.08},{"x":4910,"y":0},{"x":4930,"y":-0.04},{"x":4950,"y":0.02},{"x":4970,"y":0.09},{"x":4985,"y":0.05},{"x":4993,"y":0.25},{"x":5011,"y":1.1},{"x":5025,"y":0.95},{"x":5042,"y":0.78},{"x":5060,"y":0.5},{"x":5079,"y":0.18},{"x":5100,"y":-0.2},{"x":5125,"y":-0.51},{"x":5145,"y":-0.56},{"x":5166,"y":-0.6},{"x":5181,"y":-0.65},{"x":5200,"y":-0.58},{"x":5218,"y":-0.47},{"x":5240,"y":-0.38},{"x":5265,"y":-0.28},{"x":5290,"y":-0.05},{"x":5311,"y":0.12},{"x":5335,"y":0.18},{"x":5358,"y":0.21},{"x":5380,"y":0.22},{"x":5404,"y":0.22},{"x":5435,"y":0.21},{"x":5460,"y":0.14},{"x":5482,"y":0.05},{"x":5505,"y":-0.03},{"x":5528,"y":-0.08},{"x":5560,"y":-0.11},{"x":5590,"y":-0.12},{"x":5615,"y":-0.1},{"x":5636,"y":-0.07},{"x":5665,"y":-0.01},{"x":5698,"y":0.04},{"x":5740,"y":0.03},{"x":5800,"y":0.01},{"x":5850,"y":0.02},{"x":5920,"y":0.03},{"x":6000,"y":0.01},{"x":6100,"y":0},{"x":6400,"y":0.01},{"x":6700,"y":0},{"x":7000,"y":0},{"x":7300,"y":0},{"x":7400,"y":-0.03},{"x":7500,"y":-0.02},{"x":7600,"y":0},{"x":7650,"y":0.05},{"x":7680,"y":0.02},{"x":7710,"y":-0.04},{"x":7740,"y":0.01},{"x":7770,"y":0.03},{"x":7800,"y":-0.02},{"x":7830,"y":0.02},{"x":7860,"y":-0.02},{"x":7890,"y":0.01},{"x":7920,"y":-0.03},{"x":7950,"y":-0.03},{"x":7970,"y":0.05},{"x":7985,"y":0.1},{"x":8003,"y":0.91},{"x":8020,"y":0.6},{"x":8040,"y":0.1},{"x":8060,"y":-0.3},{"x":8081,"y":-0.6},{"x":8100,"y":-0.52},{"x":8120,"y":-0.3},{"x":8145,"y":0},{"x":8165,"y":0.25},{"x":8190,"y":0.41},{"x":8210,"y":0.35},{"x":8235,"y":0.1},{"x":8260,"y":-0.12},{"x":8289,"y":-0.25},{"x":8310,"y":-0.22},{"x":8335,"y":-0.08},{"x":8355,"y":0.05},{"x":8376,"y":0.13},{"x":8400,"y":0.1},{"x":8430,"y":0.03},{"x":8460,"y":-0.04},{"x":8500,"y":-0.08},{"x":8530,"y":-0.05},{"x":8550,"y":0},{"x":8577,"y":0.07},{"x":8610,"y":0.05},{"x":8650,"y":0},{"x":8700,"y":0.01},{"x":8750,"y":0.02},{"x":8800,"y":0},{"x":9000,"y":0},{"x":9500,"y":-0.01},{"x":10000,"y":0}]
},
"vconcat":[
{"width":1077,"height":68,
 "layer":[
  {"data":{"name":"noisy"},"mark":{"type":"line","color":"#1f78c1","strokeWidth":1.35,"clip":true},
   "encoding":{"x":{"field":"x","type":"quantitative","scale":{"domain":[0,10000],"nice":false,"zero":false},"axis":{"orient":"bottom","values":[1000,2000,3000,4000,5000,6000,7000,8000,9000,10000],"format":"d","ticks":false,"labelPadding":8,"title":null}},
    "y":{"field":"y","type":"quantitative","scale":{"domain":[-1.16,1.52],"nice":false,"zero":false},"axis":{"orient":"left","values":[-1,0,1],"ticks":false,"labelPadding":6,"title":null,"labelExpr":"'' + datum.value"}}}},
  {"data":{"name":"desired"},"mark":{"type":"line","color":"#dc2323","strokeWidth":2.5,"clip":true},
   "encoding":{"x":{"field":"x","type":"quantitative","axis":{"orient":"bottom","values":[1000,2000,3000,4000,5000,6000,7000,8000,9000,10000],"labels":false,"tickSize":-10,"title":null}},
    "y":{"field":"y","type":"quantitative","axis":{"orient":"left","values":[-1,0,1],"labels":false,"tickSize":-10,"title":null}}}},
  {"data":{"values":[{}]},"mark":{"type":"text","text":"Noisy PD Signal (Blue) and Desired Signal (Red)","align":"center","baseline":"alphabetic","fontSize":12.8,"fontWeight":"bold","color":"#111111"},
   "encoding":{"x":{"datum":5000,"type":"quantitative","axis":{"orient":"top","values":[1000,2000,3000,4000,5000,6000,7000,8000,9000,10000],"labels":false,"tickSize":-10,"title":null}},
    "y":{"datum":1.717,"type":"quantitative","axis":{"orient":"right","values":[-1,0,1],"labels":false,"tickSize":-10,"title":null}}}}
 ],
 "resolve":{"axis":{"x":"independent","y":"independent"}}},
{"width":1077,"height":68,
 "layer":[
  {"data":{"name":"hard"},"mark":{"type":"line","color":"#2e2eb0","strokeWidth":1.3,"clip":true},
   "encoding":{"x":{"field":"x","type":"quantitative","scale":{"domain":[0,10000],"nice":false,"zero":false},"axis":{"orient":"bottom","values":[1000,2000,3000,4000,5000,6000,7000,8000,9000,10000],"format":"d","ticks":false,"labelPadding":8,"title":null}},
    "y":{"field":"y","type":"quantitative","scale":{"domain":[-1.16,1.52],"nice":false,"zero":false},"axis":{"orient":"left","values":[-1,0,1],"ticks":false,"labelPadding":6,"title":null,"labelExpr":"'' + datum.value"}}}},
  {"data":{"values":[{}]},"mark":{"type":"text","text":"Denoised PD Signal Using the Hard Threshold - J","align":"right","baseline":"alphabetic","dx":110.5,"fontSize":12.8,"fontWeight":"bold","color":"#111111"},
   "encoding":{"x":{"datum":5000,"type":"quantitative","axis":{"orient":"bottom","values":[1000,2000,3000,4000,5000,6000,7000,8000,9000,10000],"labels":false,"tickSize":-10,"title":null}},
    "y":{"datum":1.938,"type":"quantitative","axis":{"orient":"left","values":[-1,0,1],"labels":false,"tickSize":-10,"title":null}}}},
  {"data":{"values":[{}]},"mark":{"type":"text","text":"Apt","align":"left","baseline":"alphabetic","dx":111.5,"fontSize":10,"fontWeight":"bold","color":"#111111"},
   "encoding":{"x":{"datum":5000,"type":"quantitative","axis":{"orient":"top","values":[1000,2000,3000,4000,5000,6000,7000,8000,9000,10000],"labels":false,"tickSize":-10,"title":null}},
    "y":{"datum":1.678,"type":"quantitative","axis":{"orient":"right","values":[-1,0,1],"labels":false,"tickSize":-10,"title":null}}}},
  {"data":{"values":[{}]},"mark":{"type":"text","text":"= 15.2271","align":"left","baseline":"alphabetic","dx":131.7,"fontSize":12.8,"fontWeight":"bold","color":"#111111"},
   "encoding":{"x":{"datum":5000,"type":"quantitative","axis":null},"y":{"datum":1.938,"type":"quantitative","axis":null}}}
 ],
 "resolve":{"axis":{"x":"independent","y":"independent"}}},
{"width":1077,"height":68,
 "layer":[
  {"data":{"name":"soft"},"mark":{"type":"line","color":"#2e2eb0","strokeWidth":1.3,"clip":true},
   "encoding":{"x":{"field":"x","type":"quantitative","scale":{"domain":[0,10000],"nice":false,"zero":false},"axis":{"orient":"bottom","values":[1000,2000,3000,4000,5000,6000,7000,8000,9000,10000],"format":"d","ticks":false,"labelPadding":8,"title":null}},
    "y":{"field":"y","type":"quantitative","scale":{"domain":[-1.16,1.52],"nice":false,"zero":false},"axis":{"orient":"left","values":[-1,0,1],"ticks":false,"labelPadding":6,"title":null,"labelExpr":"'' + datum.value"}}}},
  {"data":{"values":[{}]},"mark":{"type":"text","text":"Denoised PD Signal Using the Soft Threshold - J","align":"right","baseline":"alphabetic","dx":111.9,"fontSize":12.8,"fontWeight":"bold","color":"#111111"},
   "encoding":{"x":{"datum":5000,"type":"quantitative","axis":{"orient":"bottom","values":[1000,2000,3000,4000,5000,6000,7000,8000,9000,10000],"labels":false,"tickSize":-10,"title":null}},
    "y":{"datum":1.938,"type":"quantitative","axis":{"orient":"left","values":[-1,0,1],"labels":false,"tickSize":-10,"title":null}}}},
  {"data":{"values":[{}]},"mark":{"type":"text","text":"Apt","align":"left","baseline":"alphabetic","dx":112.9,"fontSize":10,"fontWeight":"bold","color":"#111111"},
   "encoding":{"x":{"datum":5000,"type":"quantitative","axis":{"orient":"top","values":[1000,2000,3000,4000,5000,6000,7000,8000,9000,10000],"labels":false,"tickSize":-10,"title":null}},
    "y":{"datum":1.678,"type":"quantitative","axis":{"orient":"right","values":[-1,0,1],"labels":false,"tickSize":-10,"title":null}}}},
  {"data":{"values":[{}]},"mark":{"type":"text","text":"= 8.8093","align":"left","baseline":"alphabetic","dx":133.1,"fontSize":12.8,"fontWeight":"bold","color":"#111111"},
   "encoding":{"x":{"datum":5000,"type":"quantitative","axis":null},"y":{"datum":1.938,"type":"quantitative","axis":null}}}
 ],
 "resolve":{"axis":{"x":"independent","y":"independent"}}},
{"width":1077,"height":68,
 "layer":[
  {"data":{"name":"flem"},"mark":{"type":"line","color":"#2e2eb0","strokeWidth":1.5,"clip":true},
   "encoding":{"x":{"field":"x","type":"quantitative","scale":{"domain":[0,10000],"nice":false,"zero":false},"axis":{"orient":"bottom","values":[1000,2000,3000,4000,5000,6000,7000,8000,9000,10000],"format":"d","ticks":false,"labelPadding":8,"title":null}},
    "y":{"field":"y","type":"quantitative","scale":{"domain":[-1.16,1.52],"nice":false,"zero":false},"axis":{"orient":"left","values":[-1,0,1],"ticks":false,"labelPadding":6,"title":null,"labelExpr":"'' + datum.value"}}}},
  {"data":{"values":[{}]},"mark":{"type":"text","text":"Denoised PD Signal Using the Fleming Threshold  - J","align":"right","baseline":"alphabetic","dx":122.2,"fontSize":12.8,"fontWeight":"bold","color":"#111111"},
   "encoding":{"x":{"datum":5000,"type":"quantitative","axis":{"orient":"bottom","values":[1000,2000,3000,4000,5000,6000,7000,8000,9000,10000],"labels":false,"tickSize":-10,"title":null}},
    "y":{"datum":1.938,"type":"quantitative","axis":{"orient":"left","values":[-1,0,1],"labels":false,"tickSize":-10,"title":null}}}},
  {"data":{"values":[{}]},"mark":{"type":"text","text":"Apt","align":"left","baseline":"alphabetic","dx":123.2,"fontSize":10,"fontWeight":"bold","color":"#111111"},
   "encoding":{"x":{"datum":5000,"type":"quantitative","axis":{"orient":"top","values":[1000,2000,3000,4000,5000,6000,7000,8000,9000,10000],"labels":false,"tickSize":-10,"title":null}},
    "y":{"datum":1.678,"type":"quantitative","axis":{"orient":"right","values":[-1,0,1],"labels":false,"tickSize":-10,"title":null}}}},
  {"data":{"values":[{}]},"mark":{"type":"text","text":"= 15.3324","align":"left","baseline":"alphabetic","dx":143.4,"fontSize":12.8,"fontWeight":"bold","color":"#111111"},
   "encoding":{"x":{"datum":5000,"type":"quantitative","axis":null},"y":{"datum":1.938,"type":"quantitative","axis":null}}}
 ],
 "resolve":{"axis":{"x":"independent","y":"independent"}}},
{"width":1077,"height":68,
 "layer":[
  {"data":{"name":"flem2"},"mark":{"type":"line","color":"#2e2eb0","strokeWidth":1.3,"clip":true},
   "encoding":{"x":{"field":"x","type":"quantitative","scale":{"domain":[0,10000],"nice":false,"zero":false},"axis":{"orient":"bottom","values":[1000,2000,3000,4000,5000,6000,7000,8000,9000,10000],"format":"d","ticks":false,"labelPadding":8,"title":"Sample","titleFont":"Liberation Serif","titleFontSize":21,"titleFontWeight":"normal","titleColor":"#000000","titlePadding":7}},
    "y":{"field":"y","type":"quantitative","scale":{"domain":[-1.16,1.52],"nice":false,"zero":false},"axis":{"orient":"left","values":[-1,0,1],"ticks":false,"labelPadding":6,"title":null,"labelExpr":"'' + datum.value"}}}},
  {"data":{"values":[{}]},"mark":{"type":"text","text":"Denoised PD Signal Using the Fleming 2 Threshold  - J","align":"right","baseline":"alphabetic","dx":127.55,"fontSize":12.8,"fontWeight":"bold","color":"#111111"},
   "encoding":{"x":{"datum":5000,"type":"quantitative","axis":{"orient":"bottom","values":[1000,2000,3000,4000,5000,6000,7000,8000,9000,10000],"labels":false,"tickSize":-10,"title":null}},
    "y":{"datum":1.938,"type":"quantitative","axis":{"orient":"left","values":[-1,0,1],"labels":false,"tickSize":-10,"title":null}}}},
  {"data":{"values":[{}]},"mark":{"type":"text","text":"Apt","align":"left","baseline":"alphabetic","dx":128.55,"fontSize":10,"fontWeight":"bold","color":"#111111"},
   "encoding":{"x":{"datum":5000,"type":"quantitative","axis":{"orient":"top","values":[1000,2000,3000,4000,5000,6000,7000,8000,9000,10000],"labels":false,"tickSize":-10,"title":null}},
    "y":{"datum":1.678,"type":"quantitative","axis":{"orient":"right","values":[-1,0,1],"labels":false,"tickSize":-10,"title":null}}}},
  {"data":{"values":[{}]},"mark":{"type":"text","text":"= 16.4607","align":"left","baseline":"alphabetic","dx":148.75,"fontSize":12.8,"fontWeight":"bold","color":"#111111"},
   "encoding":{"x":{"datum":5000,"type":"quantitative","axis":null},"y":{"datum":1.938,"type":"quantitative","axis":null}}}
 ],
 "resolve":{"axis":{"x":"independent","y":"independent"}}}
]
}
